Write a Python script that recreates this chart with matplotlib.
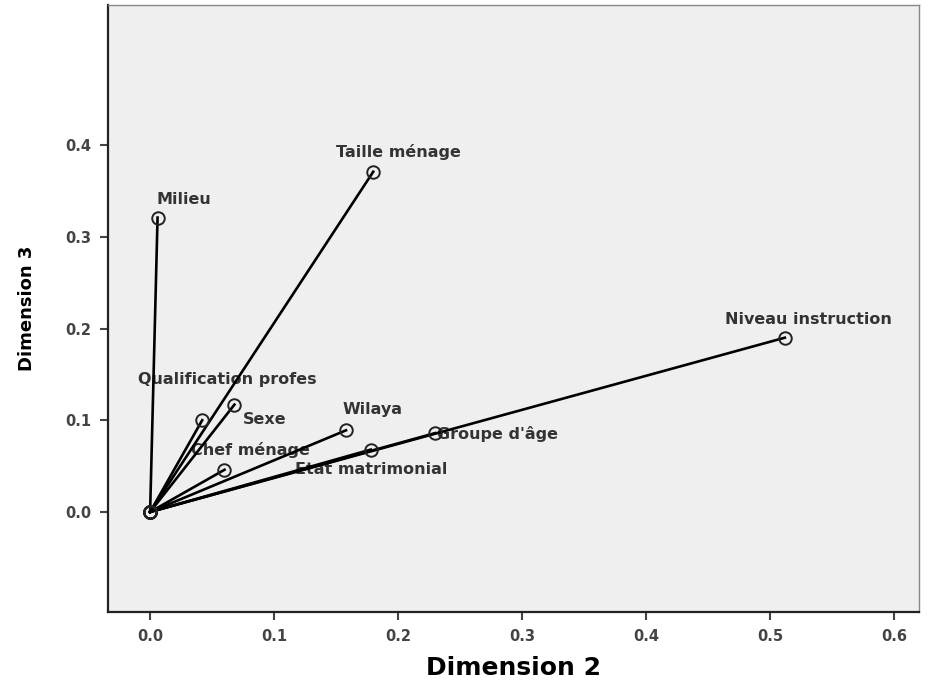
import matplotlib.pyplot as plt
from matplotlib import font_manager

variables = ["Milieu", "Taille ménage", "Niveau instruction", "Qualification profes",
             "Sexe", "Wilaya", "Groupe d'âge", "Etat matrimonial", "Chef ménage"]
dim2 = [0.006, 0.180, 0.512, 0.042, 0.068, 0.158, 0.230, 0.178, 0.060]
dim3 = [0.321, 0.371, 0.190, 0.100, 0.117, 0.089, 0.086, 0.068, 0.046]

# label offsets in points (dx, dy), text centred on that spot
label_pos = {
    "Milieu": (19, 13),
    "Taille ménage": (18, 14),
    "Niveau instruction": (17, 13),
    "Qualification profes": (18, 29),
    "Sexe": (22, -11),
    "Wilaya": (19, 15),
    "Groupe d'âge": (45, -1),
    "Etat matrimonial": (0, -14),
    "Chef ménage": (19, 14),
}

# narrow font for the y label if one is around
names = {f.name for f in font_manager.fontManager.ttflist}
if "Liberation Sans Narrow" in names:
    ylab_font = dict(family="Liberation Sans Narrow", fontsize=18)
else:
    ylab_font = dict(family="DejaVu Sans", fontsize=13)

fig = plt.figure(figsize=(9.34, 6.86), dpi=100)
ax = fig.add_axes([0.1156, 0.108, 0.868, 0.885])
ax.set_facecolor("#efefef")

for name, x, y in zip(variables, dim2, dim3):
    ax.plot([0, x], [0, y], color="black", lw=1.9, zorder=2)
    ax.plot([0, x], [0, y], ls="none", marker="o", ms=9, mfc="none",
            mec="#222222", mew=1.4, zorder=3)
    dx, dy = label_pos[name]
    ax.annotate(name, (x, y), xytext=(dx, dy), textcoords="offset points",
                ha="center", va="center", fontsize=11.5, fontweight="bold",
                color="#333333", zorder=1)

ax.set_xlim(-0.034, 0.62)
ax.set_ylim(-0.109, 0.553)
ax.set_xticks([0.0, 0.1, 0.2, 0.3, 0.4, 0.5, 0.6])
ax.set_yticks([0.0, 0.1, 0.2, 0.3, 0.4])
ax.xaxis.set_major_formatter(plt.FormatStrFormatter("%.1f"))
ax.yaxis.set_major_formatter(plt.FormatStrFormatter("%.1f"))
ax.tick_params(axis="both", direction="out", length=6, width=1.5, labelsize=10.5,
               colors="#444444", pad=6)
for lab in ax.get_xticklabels() + ax.get_yticklabels():
    lab.set_fontweight("bold")
ax.tick_params(top=False, right=False)

for side in ["left", "bottom"]:
    ax.spines[side].set_linewidth(1.6)
    ax.spines[side].set_color("#222222")
for side in ["top", "right"]:
    ax.spines[side].set_linewidth(1.0)
    ax.spines[side].set_color("#888888")

ax.set_xlabel("Dimension 2", fontsize=18, fontweight="bold", labelpad=9)
ax.set_ylabel("Dimension 3", fontweight="bold", labelpad=21, **ylab_font)

fig.savefig("out.png", dpi=100)
